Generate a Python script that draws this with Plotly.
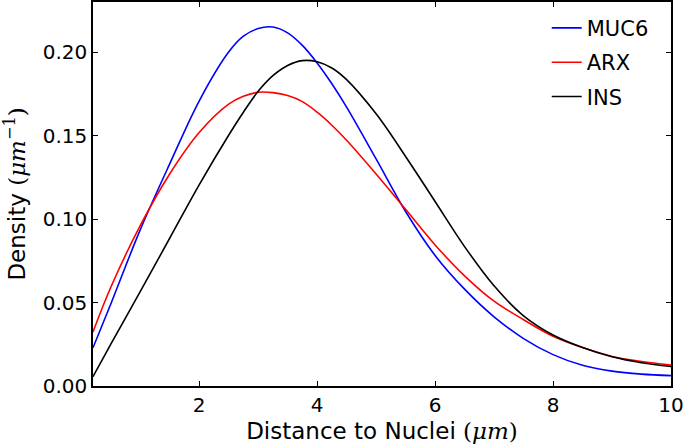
import plotly.graph_objects as go

# Distance to nuclei (um)
distance = [0.2, 0.5, 1.0, 1.5, 2.0, 2.5, 2.75, 3.0, 3.25, 3.5, 3.75, 4.0, 4.25,
            4.5, 5.0, 5.5, 6.0, 6.5, 7.0, 7.5, 8.0, 8.5, 9.0, 9.5, 10.0]

muc6 = [0.0229, 0.049, 0.0935, 0.133, 0.1707, 0.200, 0.2095, 0.2141, 0.2150, 0.2115,
        0.2040, 0.1935, 0.1810, 0.1670, 0.1360, 0.1045, 0.0782, 0.0580, 0.0414,
        0.0284, 0.0188, 0.0124, 0.0089, 0.0071, 0.0062]

arx = [0.0324, 0.059, 0.096, 0.127, 0.1518, 0.1688, 0.1735, 0.1759, 0.1757, 0.1740,
       0.1703, 0.1640, 0.1562, 0.1472, 0.1270, 0.1058, 0.0845, 0.0660, 0.0508,
       0.0397, 0.0298, 0.0230, 0.0177, 0.0147, 0.0126]

ins = [0.0056, 0.0249, 0.0565, 0.0885, 0.1205, 0.1502, 0.1640, 0.1765, 0.1859, 0.1920,
       0.1949, 0.1942, 0.1905, 0.1835, 0.1630, 0.1375, 0.1105, 0.0835, 0.0600,
       0.0420, 0.0305, 0.0230, 0.0175, 0.0139, 0.0117]

series = [("MUC6", muc6, "#0000ff"), ("ARX", arx, "#ff0000"), ("INS", ins, "#000000")]

xticks = [2, 4, 6, 8, 10]
yticks = [0.00, 0.05, 0.10, 0.15, 0.20]

fig = go.Figure()
for name, vals, color in series:
    fig.add_trace(go.Scatter(
        x=distance, y=vals, name=name, mode="lines",
        line=dict(color=color, width=1.6, shape="spline", smoothing=1.0),
        legendgroup=name,
    ))

axis_common = dict(
    showline=True, linecolor="black", linewidth=1.5, mirror="ticks",
    ticks="inside", ticklen=5, tickwidth=1, tickcolor="black",
    showgrid=False, zeroline=False, automargin=False,
    tickfont=dict(family="DejaVu Sans", size=20, color="black"),
)

fig.update_layout(
    width=685, height=448,
    margin=dict(l=93, r=14, t=2, b=62),
    paper_bgcolor="white", plot_bgcolor="white",
    font=dict(family="DejaVu Sans", color="black"),
    showlegend=True,
    legend=dict(
        x=0.785, y=0.985, xanchor="left", yanchor="top",
        bgcolor="rgba(0,0,0,0)", borderwidth=0,
        font=dict(family="DejaVu Sans", size=21, color="black"),
        tracegroupgap=4,
    ),
    xaxis=dict(
        range=[0.2, 10], tickvals=xticks, ticktext=[str(v) for v in xticks],
        title=dict(text="Distance to Nuclei <span style='font-family:DejaVu Serif'>(<i>μm</i>)</span>",
                   font=dict(family="DejaVu Sans", size=23, color="black"), standoff=7),
        **axis_common,
    ),
    yaxis=dict(
        range=[0, 0.23], tickvals=yticks, ticktext=[f"{v:.2f}" for v in yticks],
        title=dict(text="Density <span style='font-family:DejaVu Serif'>(<i>μm</i><sup>−1</sup>)</span>",
                   font=dict(family="DejaVu Sans", size=23, color="black"), standoff=15),
        **axis_common,
    ),
)

fig.write_html("out.html", config={"displayModeBar": False},
               post_script="document.body.style.margin='0';")
